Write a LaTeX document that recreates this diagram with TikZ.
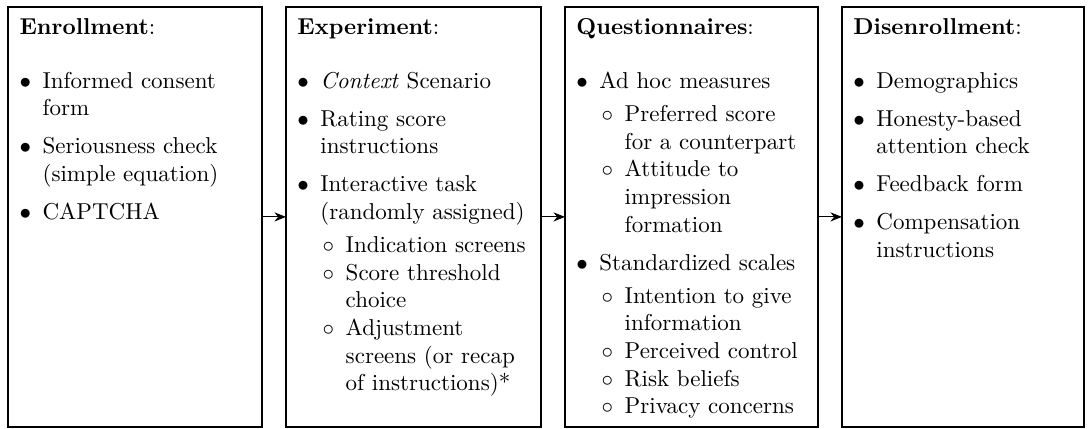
\documentclass[tikz,border=0pt]{standalone}
\usepackage{tikz}
\usetikzlibrary{positioning}
\usetikzlibrary{arrows.meta}
% bullet lists inside the stage boxes
\newenvironment{stagelist}{%
  \begin{list}{$\bullet$}{%
    \setlength{\leftmargin}{10pt}\setlength{\labelwidth}{5pt}%
    \setlength{\labelsep}{5pt}\setlength{\topsep}{11.6pt}%
    \setlength{\partopsep}{0pt}\setlength{\itemsep}{4.5pt}%
    \setlength{\parsep}{0pt}}}{\end{list}}
\newenvironment{substagelist}{%
  \begin{list}{$\circ$}{%
    \setlength{\leftmargin}{11pt}\setlength{\labelwidth}{5pt}%
    \setlength{\labelsep}{5pt}\setlength{\topsep}{2.5pt}%
    \setlength{\partopsep}{0pt}\setlength{\itemsep}{0pt}%
    \setlength{\parsep}{0pt}}}{\end{list}}

\begin{document}
\begin{tikzpicture}[
    stage/.style={draw, semithick, outer sep=0pt, inner xsep=5pt, inner ysep=4.8pt,
      align=left, text height=7pt, text depth=166pt},
    flow/.style={-{Stealth[length=5pt,width=4pt]}, thin}
  ]
	\useasboundingbox (0,0) rectangle (473pt,-186.5pt);
	\node[stage, text width=100.4pt, anchor=north west] (enroll) at (3.5pt,-3pt) {%
		\textbf{Enrollment}:
		\begin{stagelist}
			\item Informed consent form
			\item Seriousness check (simple equation)
			\item CAPTCHA
		\end{stagelist}};
	\node[stage, text width=100.9pt, right=10.4pt of enroll] (exper) {%
		\textbf{Experiment}:
		\begin{stagelist}
			\item \emph{Context} Scenario
			\item Rating score instructions
			\item Interactive task (randomly assigned)
			\begin{substagelist}
				\item Indication screens
				\item Score threshold choice
				\item Adjustment screens (or recap of instructions)*
			\end{substagelist}
		\end{stagelist}};
	\node[stage, text width=100pt, right=10.4pt of exper] (quest) {%
		\textbf{Questionnaires}:
		\begin{stagelist}
			\item Ad hoc measures
			\begin{substagelist}
				\item Preferred score for a counterpart
				\item Attitude to impression formation
			\end{substagelist}
			\item Standardized scales
			\begin{substagelist}
				\item Intention to give information
				\item Perceived control
				\item Risk beliefs
				\item Privacy concerns
			\end{substagelist}
		\end{stagelist}};
	\node[stage, text width=95.2pt, right=10.4pt of quest] (disenroll) {%
		\textbf{Disenrollment}:
		\begin{stagelist}
			\item Demographics
			\item Honesty-based attention check
			\item Feedback form
			\item Compensation instructions
		\end{stagelist}};
	% arrows between the stages
	\draw[flow] (enroll) -- (exper);
	\draw[flow] (exper) -- (quest);
	\draw[flow] (quest) -- (disenroll);
\end{tikzpicture}
\end{document}
